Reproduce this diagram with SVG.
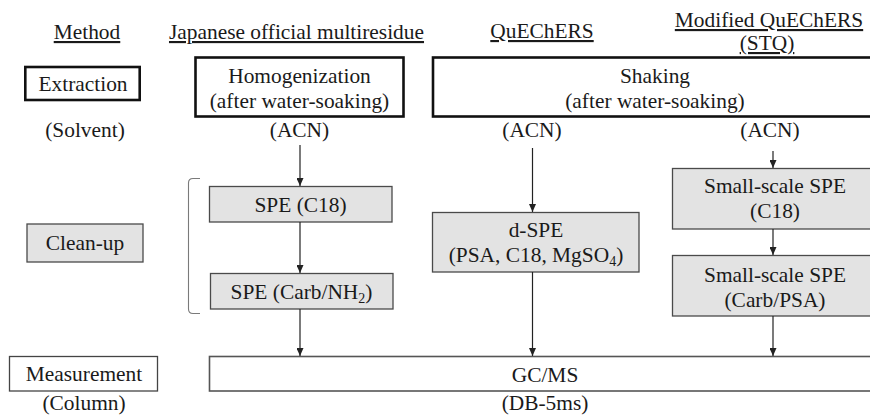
<svg xmlns="http://www.w3.org/2000/svg" width="870" height="416" viewBox="0 0 870 416" font-family="'Liberation Serif', 'DejaVu Serif', serif">
<style>
text { font-family: 'Liberation Serif', 'DejaVu Serif', serif; font-size: 21.4px; fill: #1a1a1a; text-anchor: middle; }
.u { text-decoration: underline; }
.thick { fill: #ffffff; stroke: #111111; stroke-width: 2.6; }
.grey { fill: #e3e3e3; stroke: #4a4a4a; stroke-width: 1.3; }
.plain { fill: #ffffff; stroke: #444444; stroke-width: 1.3; }
.gcms-box { fill: #ffffff; stroke: #555555; stroke-width: 1.6; }
.conn line { stroke: #222222; stroke-width: 1.2; fill: none; marker-end: url(#ah); }
.sub { font-size: 14px; }
.bracket { fill: none; stroke: #7a7a7a; stroke-width: 1.1; }
</style>
<defs>
<marker id="ah" viewBox="0 0 8 7" refX="8" refY="3.5" markerWidth="8" markerHeight="7" markerUnits="userSpaceOnUse" orient="auto">
<path d="M0,0 L8,3.5 L0,7 z" fill="#222222"/>
</marker>
</defs>

<g id="headers">
<text class="u" x="87" y="39">Method</text>
<text class="u" x="296.5" y="39">Japanese official multiresidue</text>
<text class="u" x="542" y="38">QuEChERS</text>
<text class="u" x="769" y="27">Modified QuEChERS</text>
<text class="u" x="767" y="50">(STQ)</text>
</g>

<g id="extraction">
<rect class="thick" x="25.3" y="67" width="114.4" height="33"/>
<text x="83" y="91">Extraction</text>
</g>
<g id="solvent"><text x="85" y="137">(Solvent)</text></g>

<g id="homogenization">
<rect class="thick" x="195.5" y="57.5" width="208" height="59"/>
<text x="299.5" y="83">Homogenization</text>
<text x="299.5" y="108">(after water-soaking)</text>
</g>

<g id="shaking">
<rect class="thick" x="433" y="57.5" width="450" height="59"/>
<text x="655" y="83">Shaking</text>
<text x="655" y="108">(after water-soaking)</text>
</g>

<g id="acn1"><text x="299.5" y="137">(ACN)</text></g>
<g id="acn2"><text x="532" y="137">(ACN)</text></g>
<g id="acn3"><text x="770" y="137">(ACN)</text></g>

<g id="cleanup">
<rect class="grey" x="27" y="224" width="116" height="38"/>
<text x="85" y="250">Clean-up</text>
</g>

<g id="spe-c18">
<rect class="grey" x="209.5" y="186.5" width="182.5" height="35.5"/>
<text x="300.5" y="212">SPE (C18)</text>
</g>

<g id="spe-carb-nh2">
<rect class="grey" x="210.5" y="273.5" width="182.5" height="35.5"/>
<text x="301.5" y="299">SPE (Carb/NH<tspan class="sub" dy="4">2</tspan><tspan dy="-4">)</tspan></text>
</g>

<g id="d-spe">
<rect class="grey" x="432.5" y="212.5" width="206.5" height="59.5"/>
<text x="536" y="237">d-SPE</text>
<text x="536" y="262">(PSA, C18, MgSO<tspan class="sub" dy="4">4</tspan><tspan dy="-4">)</tspan></text>
</g>

<g id="small-spe-c18">
<rect class="grey" x="672.5" y="168.5" width="210" height="60.5"/>
<text x="775" y="193">Small-scale SPE</text>
<text x="775" y="218">(C18)</text>
</g>

<g id="small-spe-carb-psa">
<rect class="grey" x="672.5" y="255.5" width="210" height="60.5"/>
<text x="775" y="282">Small-scale SPE</text>
<text x="775" y="307">(Carb/PSA)</text>
</g>

<g id="measurement">
<rect class="plain" x="9.5" y="356.5" width="148" height="34.5"/>
<text x="84" y="381">Measurement</text>
</g>
<g id="column"><text x="84" y="410">(Column)</text></g>

<g id="gcms">
<rect class="gcms-box" x="209.5" y="356.5" width="672" height="34.5"/>
<text x="545" y="382">GC/MS</text>
</g>
<g id="db5ms"><text x="545" y="410">(DB-5ms)</text></g>

<g id="cleanup-bracket">
<path class="bracket" d="M200,178.5 H193 Q188.5,178.5 188.5,183 V309 Q188.5,313.5 193,313.5 H200"/>
</g>

<g id="connectors" class="conn">
<line x1="300" y1="145" x2="300" y2="186"/>
<line x1="300" y1="222" x2="300" y2="273"/>
<line x1="300" y1="309" x2="300" y2="356"/>
<line x1="532.5" y1="148" x2="532.5" y2="212"/>
<line x1="532.5" y1="272" x2="532.5" y2="356"/>
<line x1="773" y1="151" x2="773" y2="168"/>
<line x1="773" y1="229" x2="773" y2="255"/>
<line x1="773" y1="316" x2="773" y2="356"/>
</g>
</svg>
